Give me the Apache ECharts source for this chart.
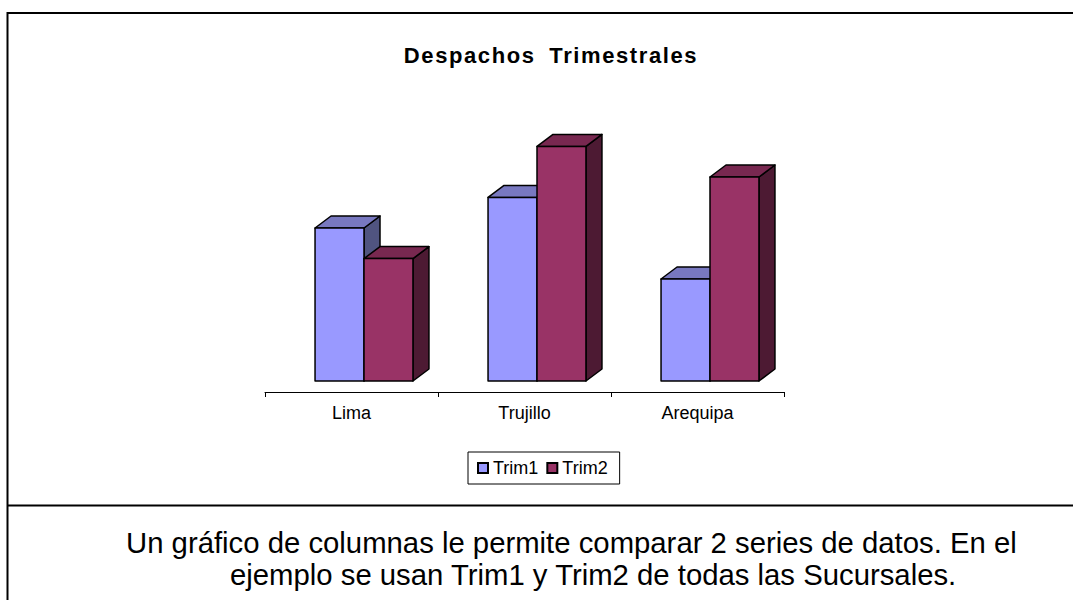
<!DOCTYPE html>
<html>
<head>
<meta charset="utf-8">
<script src="https://cdn.jsdelivr.net/npm/echarts@6/dist/echarts.min.js"></script>
<style>
html,body{margin:0;padding:0;background:#fff;}
#c{width:1073px;height:600px;}
</style>
</head>
<body>
<div id="c"></div>
<script>
const TITLE = 'Despachos Trimestrales';
const categories = ['Lima', 'Trujillo', 'Arequipa'];
const seriesNames = ['Trim1', 'Trim2'];
const trim1 = [1500, 1800, 1000];
const trim2 = [1200, 2300, 2000];
const note1 = 'Un gráfico de columnas le permite comparar 2 series de datos. En el';
const note2 = 'ejemplo se usan Trim1 y Trim2 de todas las Sucursales.';

const FONT = '"Liberation Sans", Arial, sans-serif';
const palette = [
  {front: '#9999FF', top: '#7878C0', side: '#505480'},
  {front: '#993366', top: '#782850', side: '#4D1A33'}
];

function makeRender(si) {
  return function (params, api) {
    const idx = api.value(0);
    const val = api.value(1);
    const base = api.coord([idx, 0]);
    const topP = api.coord([idx, val]);
    const catW = api.size([1, 0])[0];
    const barW = catW * 0.283;
    const recX = 12.5, recY = -11;
    const dX = 16, dY = -12;
    const cx = base[0] + recX;
    const x0 = cx - barW + si * barW;
    const x1 = x0 + barW;
    const yb = base[1] + recY;
    const yt = topP[1] + recY;
    const col = palette[si];
    const st = {stroke: '#000', lineWidth: 1.5, lineJoin: 'round'};
    return {
      type: 'group',
      children: [
        {type: 'polygon', shape: {points: [[x1, yt], [x1 + dX, yt + dY], [x1 + dX, yb + dY], [x1, yb]]},
          style: Object.assign({fill: col.side}, st)},
        {type: 'polygon', shape: {points: [[x0, yt], [x1, yt], [x1 + dX, yt + dY], [x0 + dX, yt + dY]]},
          style: Object.assign({fill: col.top}, st)},
        {type: 'rect', shape: {x: x0, y: yt, width: barW, height: yb - yt},
          style: Object.assign({fill: col.front}, st)}
      ]
    };
  };
}

const chart = echarts.init(document.getElementById('c'), null, {renderer: 'svg'});
chart.setOption({
  animation: false,
  backgroundColor: '#fff',
  title: {
    text: TITLE,
    left: 546,
    top: 39,
    textAlign: 'center',
    textStyle: {fontFamily: FONT, fontSize: 22, fontWeight: 'bold', color: '#000'}
  },
  legend: {
    data: seriesNames,
    left: 468,
    top: 452,
    itemWidth: 10,
    itemHeight: 10,
    itemGap: 8,
    icon: 'rect',
    padding: [7, 12, 7, 9],
    borderColor: '#000',
    borderWidth: 1,
    textStyle: {fontFamily: FONT, fontSize: 18, color: '#000'}
  },
  grid: {left: 265, right: 289, top: 137, bottom: 208},
  xAxis: {
    type: 'category',
    data: categories,
    axisLine: {lineStyle: {color: '#000', width: 1}},
    axisTick: {show: true, length: 5, lineStyle: {color: '#000'}},
    axisLabel: {fontFamily: FONT, fontSize: 18, color: '#000', margin: 12}
  },
  yAxis: {type: 'value', min: 0, max: 2500, show: false, splitLine: {show: false}},
  series: [
    {name: seriesNames[0], type: 'custom', clip: false, renderItem: makeRender(0),
      itemStyle: {color: palette[0].front, borderColor: '#000', borderWidth: 1},
      data: trim1.map((v, i) => [i, v])},
    {name: seriesNames[1], type: 'custom', clip: false, renderItem: makeRender(1),
      itemStyle: {color: palette[1].front, borderColor: '#000', borderWidth: 1},
      data: trim2.map((v, i) => [i, v])}
  ],
  graphic: [
    {type: 'line', shape: {x1: 7.5, y1: 13, x2: 1073, y2: 13}, style: {stroke: '#000', lineWidth: 2}},
    {type: 'line', shape: {x1: 7.5, y1: 12, x2: 7.5, y2: 600}, style: {stroke: '#000', lineWidth: 2}},
    {type: 'line', shape: {x1: 7.5, y1: 505.5, x2: 1073, y2: 505.5}, style: {stroke: '#000', lineWidth: 2}},
    {type: 'text', left: 126, top: 528, style: {text: note1, font: '29.3px ' + FONT, fill: '#000'}},
    {type: 'text', left: 230, top: 560, style: {text: note2, font: '29.3px ' + FONT, fill: '#000'}}
  ]
});

function spaceTitle() {
  document.querySelectorAll('#c svg text').forEach(function (t) {
    if (t.textContent === TITLE) {
      t.style.letterSpacing = '1.6px';
      t.style.wordSpacing = '6px';
    }
  });
}
chart.on('finished', spaceTitle);
setTimeout(spaceTitle, 50);
</script>
</body>
</html>
